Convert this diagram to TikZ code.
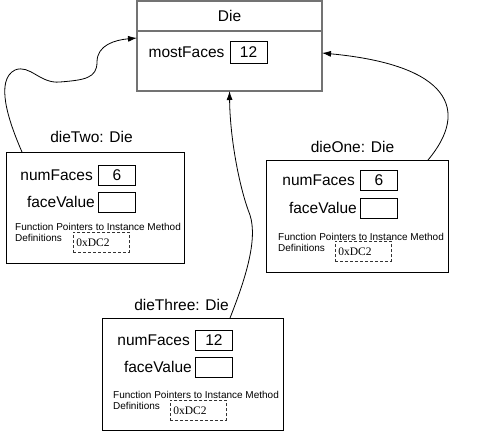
\documentclass[tikz,border=0pt]{standalone}
\usepackage{fontspec}
\setmainfont{Liberation Sans}
\newfontfamily\addrfont{Liberation Serif}
\usetikzlibrary{arrows.meta, positioning}
\tikzset{
  % Box styles
  classhead/.style={rectangle, draw=black!55, line width=1.4pt, minimum width=185pt, minimum height=30pt, inner sep=0pt, outer sep=0pt, font=\fontsize{15.5}{18}\selectfont},
  classbody/.style={classhead, minimum height=60pt},
  objbox/.style={rectangle, draw=black, line width=0.8pt, minimum width=180pt, minimum height=112pt, inner sep=0pt, outer sep=0pt},
  valbox/.style={rectangle, draw=black, line width=0.8pt, minimum width=37pt, minimum height=20pt, inner sep=0pt, font=\fontsize{15.5}{18}\selectfont},
  ptrbox/.style={rectangle, draw=black!80, dash pattern=on 3pt off 2pt, line width=0.8pt, text width=50pt, inner xsep=3pt, inner ysep=0pt, minimum height=20pt, align=left, font=\addrfont\fontsize{11.5}{13}\selectfont},
  % Text styles
  fieldtext/.style={inner sep=0pt, font=\fontsize{15.5}{18}\selectfont},
  objlabel/.style={inner sep=0pt, font=\fontsize{15.5}{18}\selectfont},
  fntext/.style={inner sep=0pt, align=left, font=\fontsize{10}{11.5}\selectfont},
  % Arrow styles
  arrow/.style={-{Latex[length=9pt,width=6pt]}, line width=0.8pt},
}

\begin{document}
\begin{tikzpicture}[x=1pt, y=-1pt]
  \useasboundingbox (0,0) rectangle (495,432);

  \node[classhead] (dieHead) at (229.5,16) {Die};
  \node[classbody, below=0pt of dieHead] (dieBody) {};
  \node[valbox, minimum height=22pt] (mostVal) at (248.5,52) {12};
  \node[fieldtext, left=5pt of mostVal] (most) {mostFaces};

  \node[objbox, minimum width=178pt, minimum height=111pt] (two) at (95,207.5) {};
  \node[objlabel, above=9pt of two, xshift=-3.5pt] (twoLbl) {dieTwo: Die};
  \node[valbox, below right=13pt and 92pt of two.north west] (twoNum) {6};
  \node[valbox, below=6pt of twoNum] (twoFace) {};
  \node[fieldtext, left=5pt of twoNum] (twoNumTxt) {numFaces};
  \node[fieldtext, left=3pt of twoFace] (twoFaceTxt) {faceValue};
  \node[fntext, below right=71pt and 9pt of two.north west] (twoFn) {Function Pointers to Instance Method\\Definitions};
  \node[ptrbox, below right=80pt and 67pt of two.north west] (twoPtr) {0xDC2};

  \node[objbox, minimum width=182pt] (one) at (357,216) {};
  \node[objlabel, above=7.5pt of one, xshift=-4.5pt] (oneLbl) {dieOne: Die};
  \node[valbox, below right=10pt and 94pt of one.north west] (oneNum) {6};
  \node[valbox, below=7pt of oneNum] (oneFace) {};
  \node[fieldtext, left=5pt of oneNum] (oneNumTxt) {numFaces};
  \node[fieldtext, left=3pt of oneFace] (oneFaceTxt) {faceValue};
  \node[fntext, below right=73pt and 12pt of one.north west] (oneFn) {Function Pointers to Instance Method\\Definitions};
  \node[ptrbox, below right=81pt and 69pt of one.north west] (onePtr) {0xDC2};

  \node[objbox, minimum width=181pt] (three) at (192.5,374) {};
  \node[objlabel, above=7.5pt of three, xshift=-11pt] (threeLbl) {dieThree: Die};
  \node[valbox, below right=12pt and 93pt of three.north west] (threeNum) {12};
  \node[valbox, below=6pt of threeNum] (threeFace) {};
  \node[fieldtext, left=5pt of threeNum] (threeNumTxt) {numFaces};
  \node[fieldtext, left=3pt of threeFace] (threeFaceTxt) {faceValue};
  \node[fntext, below right=73pt and 11pt of three.north west] (threeFn) {Function Pointers to Instance Method\\Definitions};
  \node[ptrbox, below right=82pt and 68pt of three.north west] (threePtr) {0xDC2};

  \draw[arrow] ([xshift=16pt]two.north west) .. controls (8,120) and (-5,80) .. (15,70) .. controls (30,64) and (40,84) .. (60,82) .. controls (85,80) and (97,78) .. (97,62) .. controls (97,45) and (115,40) .. ([yshift=-7pt]dieBody.north west);
  \draw[arrow] ([xshift=-20pt]one.north east) .. controls (470,110) and (450,65) .. ([yshift=-22pt]dieBody.north east);
  \draw[arrow] ([xshift=128pt]three.north west) .. controls (245,280) and (258,240) .. (250,215) .. controls (240,190) and (230,140) .. (dieBody.south);
\end{tikzpicture}
\end{document}
